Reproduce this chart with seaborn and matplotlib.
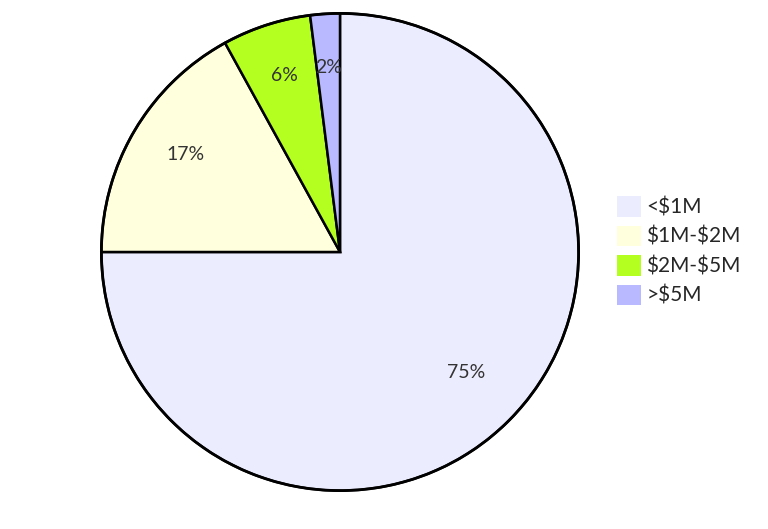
import matplotlib
matplotlib.use("Agg")
import matplotlib.pyplot as plt
import matplotlib.patches as mpatches
import seaborn as sns

# deal size buckets and their share (%)
categories = ["<$1M", "$1M-$2M", "$2M-$5M", ">$5M"]
shares = [75, 17, 6, 2]
colors = ["#ECECFF", "#FFFFDE", "#B5FF20", "#B9B9FF"]

sns.set_theme(style="white")
plt.rcParams["font.family"] = ["Lato", "DejaVu Sans"]
plt.rcParams["text.parse_math"] = False

fig = plt.figure(figsize=(7.68, 5.29), dpi=100)
ax = fig.add_axes([99 / 768, 36 / 529, 482 / 768, 482 / 529])

wedges, _, autotexts = ax.pie(
    shares, colors=colors, startangle=90, counterclock=False,
    autopct="%1.0f%%", pctdistance=0.75, radius=1,
    wedgeprops=dict(edgecolor="black", linewidth=1.8),
    textprops=dict(color="#333333", fontsize=14),
)
for t in autotexts:
    x, y = t.get_position()
    t.set_position((x, y + 0.025))
ax.add_patch(plt.Circle((0, 0), 1, fill=False, edgecolor="black", linewidth=2))
ax.set_xlim(-1.01, 1.01)
ax.set_ylim(-1.01, 1.01)
ax.set_aspect("equal")
ax.axis("off")

handles = [mpatches.Patch(facecolor=c, edgecolor="none", label=l)
           for c, l in zip(colors, categories)]
fig.legend(handles=handles, loc="upper left", bbox_to_anchor=(617 / 768, 1 - 196 / 529),
           frameon=False, fontsize=15, handlelength=1.15, handleheight=1.15,
           handletextpad=0.25, labelspacing=0.39, borderpad=0, borderaxespad=0)

fig.savefig("out.png", dpi=100)
